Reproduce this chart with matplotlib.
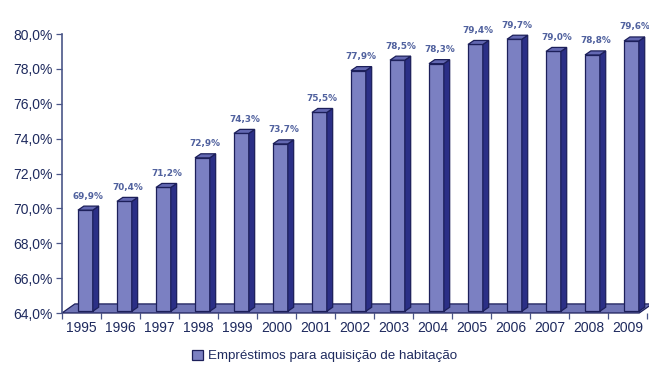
import matplotlib.pyplot as plt
from matplotlib.patches import Rectangle, Polygon, Patch

years = ['1995', '1996', '1997', '1998', '1999', '2000', '2001', '2002',
         '2003', '2004', '2005', '2006', '2007', '2008', '2009']
values = [69.9, 70.4, 71.2, 72.9, 74.3, 73.7, 75.5, 77.9,
          78.5, 78.3, 79.4, 79.7, 79.0, 78.8, 79.6]
yticks = [64, 66, 68, 70, 72, 74, 76, 78, 80]
series_name = 'Empréstimos para aquisição de habitação'

front_c = '#7B80C2'
side_c = '#2B2F86'
top_c = '#6368B2'
edge_c = '#1C1F5A'
floor_c = '#7075B6'
text_c = '#1E2A5E'
label_c = '#50619E'

plt.rcParams['font.family'] = ['Liberation Sans', 'DejaVu Sans']

fig = plt.figure(figsize=(6.49, 3.72), dpi=100)
ax = fig.add_axes([0.0955, 0.1586, 0.9015, 0.75])
ax.set_xlim(0, len(years))
ax.set_ylim(64, 80)

# depth of the bars and of the floor (data units)
dx, dy = 0.15, 0.23
fdx, fdy = 0.33, 0.52

floor = Polygon([(0, 64), (len(years) - 0.2, 64),
                 (len(years) - 0.2 + fdx, 64 + fdy), (fdx, 64 + fdy)],
                closed=True, facecolor=floor_c, edgecolor=edge_c, lw=0.9,
                clip_on=False, zorder=2)
ax.add_patch(floor)

bw = 0.38
for i, v in enumerate(values):
    x0 = i + 0.41
    base = 64.1
    ax.add_patch(Rectangle((x0, base), bw, v - base, facecolor=front_c,
                           edgecolor=edge_c, lw=0.9, zorder=3, clip_on=False))
    ax.add_patch(Polygon([(x0 + bw, base), (x0 + bw + dx, base + dy),
                          (x0 + bw + dx, v + dy), (x0 + bw, v)],
                         closed=True, facecolor=side_c, edgecolor=edge_c,
                         lw=0.9, zorder=3, clip_on=False))
    ax.add_patch(Polygon([(x0, v), (x0 + bw, v), (x0 + bw + dx, v + dy),
                          (x0 + dx, v + dy)],
                         closed=True, facecolor=top_c, edgecolor=edge_c,
                         lw=0.9, zorder=3, clip_on=False))
    ax.annotate(('%.1f%%' % v).replace('.', ','), (x0 + (bw + dx) / 2, v + dy),
                xytext=(0, 4), textcoords='offset points', ha='center',
                va='bottom', fontsize=6.4, fontweight='bold', color=label_c,
                family='DejaVu Sans', clip_on=False)

ax.set_yticks(yticks)
ax.set_yticklabels([('%.1f%%' % t).replace('.', ',') for t in yticks],
                   fontsize=10, color=text_c)
ax.set_xticks(range(len(years) + 1))
ax.set_xticklabels([])
ax.set_xticks([i + 0.5 for i in range(len(years))], minor=True)
ax.set_xticklabels(years, minor=True, fontsize=10, color=text_c)
ax.tick_params(axis='x', which='minor', length=0, pad=6)
ax.tick_params(axis='x', which='major', length=4, color='#4A5688', width=0.9)
ax.tick_params(axis='y', length=4, color='#4A5688', width=0.9, pad=3)

for s in ['top', 'right', 'bottom']:
    ax.spines[s].set_visible(False)
ax.spines['left'].set_color('#4A5688')
ax.spines['left'].set_linewidth(1.2)

handle = Patch(facecolor=front_c, edgecolor=edge_c, lw=0.9)
fig.legend([handle], [series_name], loc='center', bbox_to_anchor=(0.5, 0.043),
           frameon=False, fontsize=9.6, handlelength=0.8, handleheight=0.8,
           handletextpad=0.4, labelcolor=text_c)

fig.savefig('out.png', dpi=100)
